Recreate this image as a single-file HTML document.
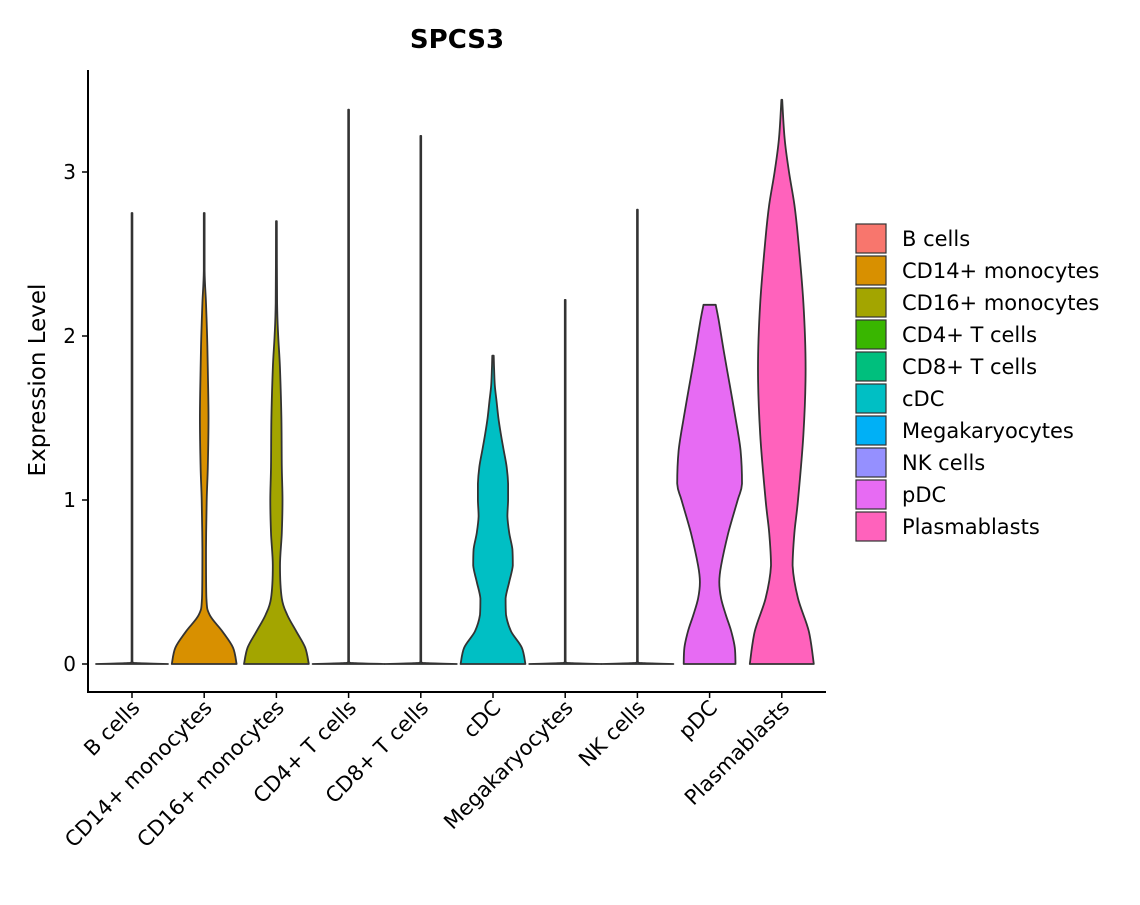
<!DOCTYPE html>
<html><head><meta charset="utf-8"><style>
body{margin:0;background:#fff;}
svg text{font-family:"DejaVu Sans","Liberation Sans",sans-serif;fill:#000;}
</style></head><body>
<svg id="chart" width="1140" height="900" xmlns="http://www.w3.org/2000/svg">
<text x="457" y="48" text-anchor="middle" font-size="26" font-weight="bold">SPCS3</text>
<text transform="translate(45,380) rotate(-90)" text-anchor="middle" font-size="23">Expression Level</text>
<g id="plot"></g>
<g id="legend"></g>
</svg>
<script>
const categories=["B cells","CD14+ monocytes","CD16+ monocytes","CD4+ T cells","CD8+ T cells","cDC","Megakaryocytes","NK cells","pDC","Plasmablasts"];
const colors=["#F8766D","#D89000","#A3A500","#39B600","#00BF7D","#00BFC4","#00B0F6","#9590FF","#E76BF3","#FF62BC"];
const yTicks=[0,1,2,3];
// density profiles: [expression value, relative half-width]
const profB=[[0,1],[0.005,0.2],[0.012,0.01],[2.75,0.01]];
const profCD14=[[0,0.9],[0.1,0.8],[0.2,0.5],[0.3,0.15],[0.4,0.06],[0.7,0.05],[1.0,0.07],[1.2,0.1],[1.5,0.12],[1.8,0.1],[2.0,0.08],[2.2,0.05],[2.4,0.01],[2.75,0.01]];
const profCD16=[[0,0.9],[0.1,0.8],[0.2,0.55],[0.3,0.3],[0.4,0.15],[0.6,0.1],[0.8,0.15],[1.0,0.17],[1.2,0.15],[1.5,0.14],[1.8,0.1],[2.0,0.05],[2.2,0.02],[2.7,0.01]];
const profCD4=[[0,1],[0.005,0.2],[0.012,0.01],[3.38,0.01]];
const profCD8=[[0,1],[0.005,0.2],[0.012,0.01],[3.22,0.01]];
const profCDC=[[0,0.9],[0.1,0.8],[0.2,0.5],[0.3,0.36],[0.4,0.35],[0.5,0.45],[0.6,0.55],[0.7,0.54],[0.8,0.45],[0.9,0.4],[1.0,0.42],[1.1,0.42],[1.2,0.38],[1.3,0.3],[1.4,0.22],[1.5,0.15],[1.6,0.1],[1.7,0.05],[1.8,0.03],[1.88,0.02]];
const profMega=[[0,1],[0.005,0.2],[0.012,0.01],[2.22,0.01]];
const profNK=[[0,1],[0.005,0.2],[0.012,0.01],[2.77,0.01]];
const profPDC=[[0,0.72],[0.1,0.7],[0.2,0.6],[0.3,0.45],[0.4,0.32],[0.5,0.27],[0.6,0.32],[0.8,0.52],[1.0,0.78],[1.1,0.9],[1.3,0.86],[1.5,0.72],[1.7,0.56],[1.9,0.4],[2.1,0.25],[2.19,0.17]];
const profPlasma=[[0,0.89],[0.2,0.75],[0.4,0.45],[0.6,0.3],[0.8,0.35],[1.0,0.45],[1.4,0.6],[1.8,0.66],[2.2,0.6],[2.6,0.45],[2.8,0.35],[3.0,0.2],[3.2,0.08],[3.44,0.01]];
const profiles=[profB,profCD14,profCD16,profCD4,profCD8,profCDC,profMega,profNK,profPDC,profPlasma];

const NS="http://www.w3.org/2000/svg";
const X0=88,X1=826,Y0=692,Ytop=70;
const xPos=i=>132+i*72.2;
const yPos=v=>664-v*164;
const W=36;
const plot=document.getElementById('plot');
function mk(tag,attrs,parent){const e=document.createElementNS(NS,tag);for(const k in attrs)e.setAttribute(k,attrs[k]);parent.appendChild(e);return e;}
const clamp=(v,a,b)=>Math.min(Math.max(v,Math.min(a,b)),Math.max(a,b));
function smooth(pts){
  let d=`M${pts[0][0].toFixed(1)},${pts[0][1].toFixed(1)}`;
  for(let i=0;i<pts.length-1;i++){
    const p0=pts[Math.max(0,i-1)],p1=pts[i],p2=pts[i+1],p3=pts[Math.min(pts.length-1,i+2)];
    const c1=[clamp(p1[0]+(p2[0]-p0[0])/6,p1[0],p2[0]),clamp(p1[1]+(p2[1]-p0[1])/6,p1[1],p2[1])];
    const c2=[clamp(p2[0]-(p3[0]-p1[0])/6,p1[0],p2[0]),clamp(p2[1]-(p3[1]-p1[1])/6,p1[1],p2[1])];
    d+=`C${c1[0].toFixed(1)},${c1[1].toFixed(1)} ${c2[0].toFixed(1)},${c2[1].toFixed(1)} ${p2[0].toFixed(1)},${p2[1].toFixed(1)}`;
  }
  return d;
}

profiles.forEach((p,i)=>{
  const cx=xPos(i);
  const right=p.map(([v,w])=>[cx+w*W,yPos(v)]);
  const left=p.slice().reverse().map(([v,w])=>[cx-w*W,yPos(v)]);
  const d=smooth(right)+'L'+smooth(left).slice(1)+'Z';
  const path=mk('path',{d:d,fill:colors[i],stroke:'#333','stroke-width':1.8,'stroke-linejoin':'round'},plot);
  
  
});

const ax=mk('path',{d:`M${X0},${Ytop}V${Y0}H${X1}`,stroke:'#000','stroke-width':2,fill:'none'},plot);


yTicks.forEach(t=>{
  const y=yPos(t);
  mk('line',{x1:X0-6,x2:X0,y1:y,y2:y,stroke:'#000','stroke-width':1.5},plot);
  const tx=mk('text',{x:X0-12,y:y+7,'text-anchor':'end','font-size':20,fill:'#222'},plot);
  tx.textContent=t;
  
  
});
categories.forEach((c,i)=>{
  const x=xPos(i);
  mk('line',{x1:x,x2:x,y1:Y0,y2:Y0+6,stroke:'#000','stroke-width':1.5},plot);
  const tx=mk('text',{transform:`translate(${x+9},${Y0+17}) rotate(-45)`,'text-anchor':'end','font-size':21,fill:'#222'},plot);
  tx.textContent=c;
  
  
});
const lg=document.getElementById('legend');


categories.forEach((c,i)=>{
  const y=224+i*32;
  const r=mk('rect',{x:856,y:y,width:30,height:29,fill:colors[i],stroke:'#333','stroke-width':1.2},lg);
  
  
  const t=mk('text',{x:902,y:y+22,'font-size':21,fill:'#222'},lg);
  t.textContent=c;
  
  
});
</script>
</body></html>
